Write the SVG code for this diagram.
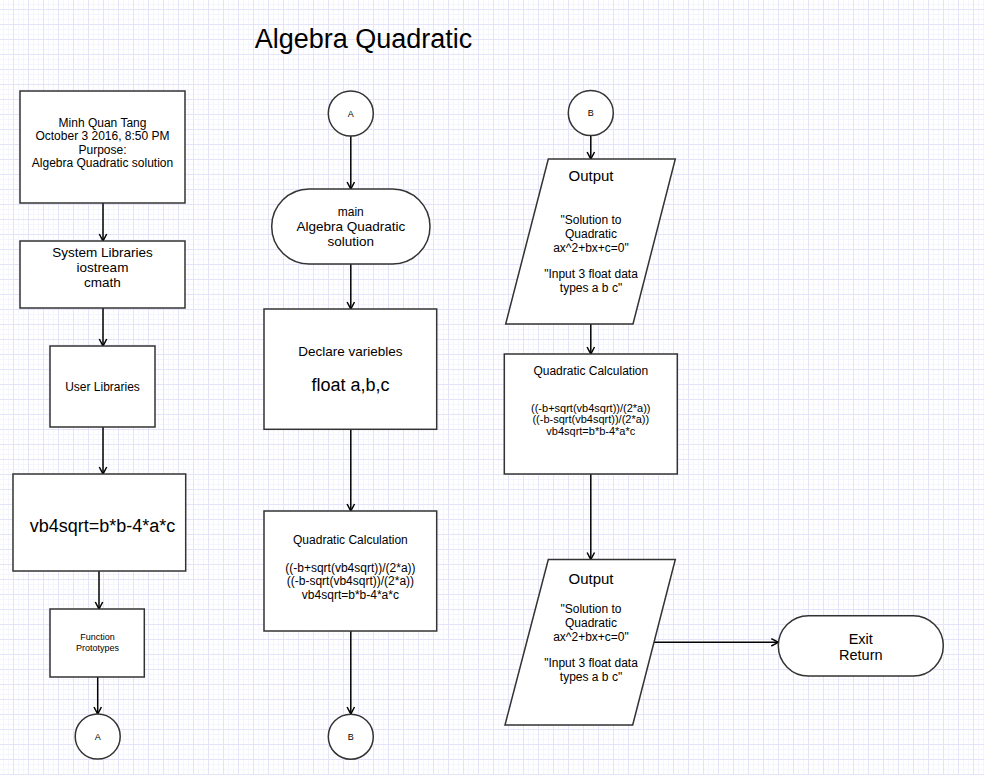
<svg xmlns="http://www.w3.org/2000/svg" width="984" height="775" viewBox="0 0 984 775">
<defs>
<pattern id="grid" x="13" y="9" width="15" height="15" patternUnits="userSpaceOnUse">
<rect x="5" y="0" width="1" height="15" fill="#f5f5fd"/>
<rect x="10" y="0" width="1" height="15" fill="#f5f5fd"/>
<rect x="0" y="5" width="15" height="1" fill="#f5f5fd"/>
<rect x="0" y="10" width="15" height="1" fill="#f5f5fd"/>
<rect x="0" y="0" width="1" height="15" fill="#e3e3f9"/>
<rect x="0" y="0" width="15" height="1" fill="#e3e3f9"/>
</pattern>
<marker id="arr" viewBox="0 0 10 10" refX="9" refY="5" markerWidth="10" markerHeight="10" markerUnits="userSpaceOnUse" orient="auto">
<path d="M2,1.3 L9,5 L2,8.7" fill="none" stroke="#000" stroke-width="1.5"/>
</marker>
<style>
.s{fill:#fff;stroke:#333;stroke-width:1.5}
.t{font-family:"Liberation Sans",Arial,sans-serif;fill:#000;text-anchor:middle}
.c line{stroke:#000;stroke-width:1.5;marker-end:url(#arr)}
</style>
</defs>
<rect width="984" height="775" fill="#fff"/>
<rect width="984" height="775" fill="url(#grid)"/>

<text class="t" x="363.5" y="48" font-size="27">Algebra Quadratic</text>

<g class="c" id="connectors">
<line x1="103" y1="203" x2="103" y2="241"/>
<line x1="103" y1="308" x2="103" y2="346"/>
<line x1="103" y1="427" x2="103" y2="474"/>
<line x1="99" y1="571" x2="99" y2="609"/>
<line x1="97.7" y1="677" x2="97.7" y2="714"/>
<line x1="350.8" y1="136" x2="350.8" y2="189"/>
<line x1="350.8" y1="264" x2="350.8" y2="309"/>
<line x1="350.8" y1="429" x2="350.8" y2="511"/>
<line x1="350.8" y1="631" x2="350.8" y2="714"/>
<line x1="590.8" y1="135.5" x2="590.8" y2="159"/>
<line x1="590.8" y1="324" x2="590.8" y2="354"/>
<line x1="590.8" y1="474" x2="590.8" y2="559.5"/>
<line x1="654" y1="642.3" x2="778.3" y2="642.3"/>
</g>

<g id="header">
<rect class="s" x="20" y="91" width="165" height="112"/>
<text class="t" font-size="12"><tspan x="102.5" y="127">Minh Quan Tang</tspan><tspan x="102.5" y="140.3">October 3 2016, 8:50 PM</tspan><tspan x="102.5" y="153.6">Purpose:</tspan><tspan x="102.5" y="166.9">Algebra Quadratic solution</tspan></text>
</g>

<g id="syslib">
<rect class="s" x="20" y="241" width="165" height="67"/>
<text class="t" font-size="13.5"><tspan x="102.5" y="256.5">System Libraries</tspan><tspan x="102.5" y="271.5">iostream</tspan><tspan x="102.5" y="286.5">cmath</tspan></text>
</g>

<g id="userlib">
<rect class="s" x="50" y="346" width="105" height="81"/>
<text class="t" x="102.5" y="391" font-size="12">User Libraries</text>
</g>

<g id="vb4">
<rect class="s" x="13" y="474" width="172.7" height="97"/>
<text class="t" x="102.5" y="532" font-size="18">vb4sqrt=b*b-4*a*c</text>
</g>

<g id="proto">
<rect class="s" x="50" y="609" width="94.3" height="68"/>
<text class="t" font-size="9"><tspan x="97.5" y="639.5">Function</tspan><tspan x="97.5" y="650.5">Prototypes</tspan></text>
</g>

<g id="connA1">
<circle class="s" cx="97.7" cy="736.5" r="22.5"/>
<text class="t" x="97.7" y="739.8" font-size="9">A</text>
</g>

<g id="connA2">
<circle class="s" cx="350.8" cy="113.5" r="22.5"/>
<text class="t" x="350.8" y="116.8" font-size="9">A</text>
</g>

<g id="main">
<rect class="s" x="271.7" y="189" width="158.3" height="75" rx="37.5" ry="37.5"/>
<text class="t"><tspan x="350.8" y="215.7" font-size="12">main</tspan><tspan x="350.8" y="231" font-size="13.5">Algebra Quadratic</tspan><tspan x="350.8" y="246" font-size="13.5">solution</tspan></text>
</g>

<g id="declare">
<rect class="s" x="264" y="309" width="172.7" height="120.3"/>
<text class="t" x="350.4" y="355.8" font-size="13.5">Declare variebles</text>
<text class="t" x="350.4" y="391.3" font-size="18">float a,b,c</text>
</g>

<g id="calc1">
<rect class="s" x="264" y="511" width="172.7" height="120"/>
<text class="t" font-size="12"><tspan x="350.4" y="543.5">Quadratic Calculation</tspan><tspan x="350.4" y="571.5">((-b+sqrt(vb4sqrt))/(2*a))</tspan><tspan x="350.4" y="585">((-b-sqrt(vb4sqrt))/(2*a))</tspan><tspan x="350.4" y="598.5">vb4sqrt=b*b-4*a*c</tspan></text>
</g>

<g id="connB1">
<circle class="s" cx="350.8" cy="736.7" r="22.5"/>
<text class="t" x="350.8" y="740" font-size="9">B</text>
</g>

<g id="connB2">
<circle class="s" cx="590.8" cy="113" r="22.5"/>
<text class="t" x="590.8" y="116.3" font-size="9">B</text>
</g>

<g id="output1">
<polygon class="s" points="548.3,159 675.3,159 633,324 505.7,324"/>
<text class="t" x="591" y="181" font-size="15">Output</text>
<text class="t" font-size="12"><tspan x="591" y="224">"Solution to</tspan><tspan x="591" y="237.5">Quadratic</tspan><tspan x="591" y="252.2">ax^2+bx+c=0"</tspan><tspan x="591" y="278.3">"Input 3 float data</tspan><tspan x="591" y="292.3">types a b c"</tspan></text>
</g>

<g id="calc2">
<rect class="s" x="504.3" y="354" width="173" height="120"/>
<text class="t" x="590.8" y="375" font-size="12">Quadratic Calculation</text>
<text class="t" font-size="11"><tspan x="590.8" y="412.2">((-b+sqrt(vb4sqrt))/(2*a))</tspan><tspan x="590.8" y="423.4">((-b-sqrt(vb4sqrt))/(2*a))</tspan><tspan x="590.8" y="434.6">vb4sqrt=b*b-4*a*c</tspan></text>
</g>

<g id="output2">
<polygon class="s" points="548.3,559.5 675.3,559.5 632.7,725 505,725"/>
<text class="t" x="591" y="584.3" font-size="15">Output</text>
<text class="t" font-size="12"><tspan x="591" y="613.3">"Solution to</tspan><tspan x="591" y="627.3">Quadratic</tspan><tspan x="591" y="640.7">ax^2+bx+c=0"</tspan><tspan x="591" y="667.3">"Input 3 float data</tspan><tspan x="591" y="681.3">types a b c"</tspan></text>
</g>

<g id="exit">
<rect class="s" x="778.3" y="615.7" width="165" height="60.3" rx="30.15" ry="30.15"/>
<text class="t" font-size="14.5"><tspan x="860.8" y="644">Exit</tspan><tspan x="860.8" y="659.5">Return</tspan></text>
</g>
</svg>
